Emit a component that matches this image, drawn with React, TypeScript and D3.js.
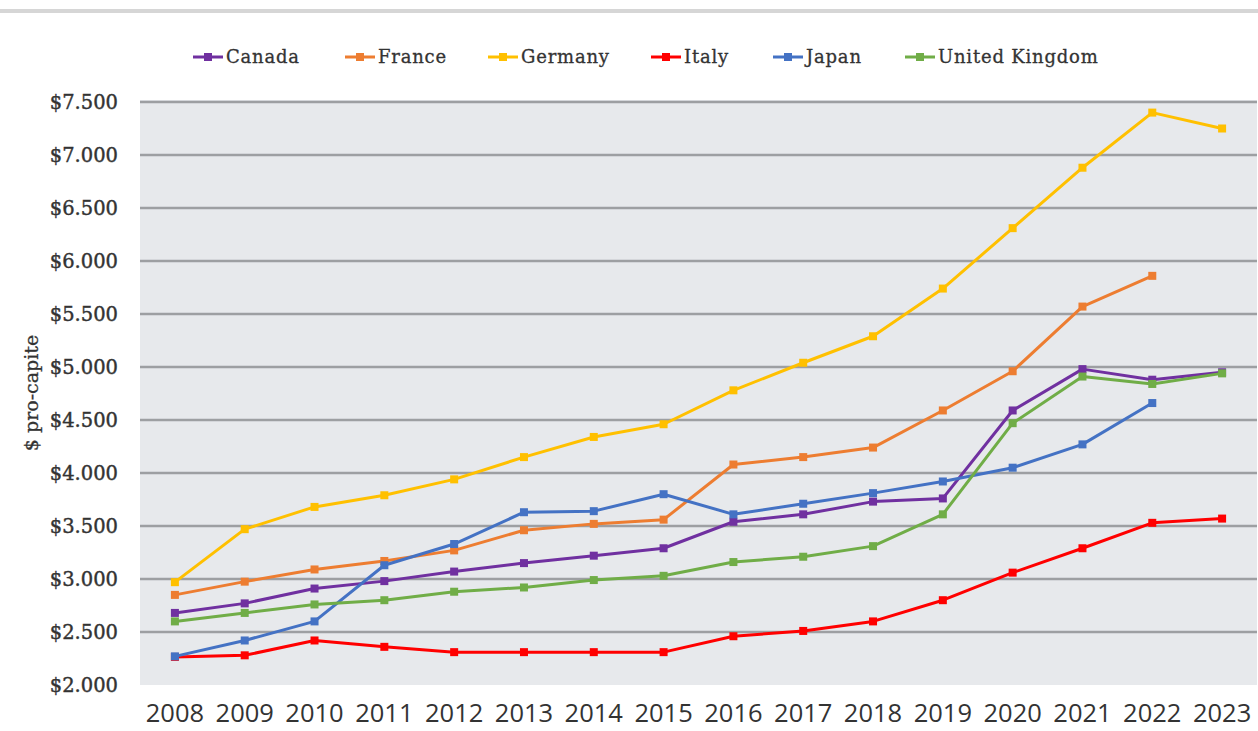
import React from "react";
import * as d3 from "d3";

const years = ["2008","2009","2010","2011","2012","2013","2014","2015","2016","2017","2018","2019","2020","2021","2022","2023"];
const seriesNames = ["Canada","France","Germany","Italy","Japan","United Kingdom"];
const seriesColors = ["#7030A0","#ED7D31","#FFC000","#FF0000","#4472C4","#70AD47"];
const canada = [2680,2770,2910,2980,3070,3150,3220,3290,3540,3610,3730,3760,4590,4980,4880,4950];
const france = [2850,2975,3090,3170,3270,3460,3520,3560,4080,4150,4240,4590,4960,5570,5860,null];
const germany = [2970,3470,3680,3790,3940,4150,4340,4460,4780,5040,5290,5740,6310,6880,7400,7250];
const italy = [2265,2280,2420,2360,2310,2310,2310,2310,2460,2510,2600,2800,3060,3290,3530,3570];
const japan = [2270,2420,2600,3130,3330,3630,3640,3800,3610,3710,3810,3920,4050,4270,4660,null];
const uk = [2600,2680,2760,2800,2880,2920,2990,3030,3160,3210,3310,3610,4470,4910,4840,4940];
const yTicks = [2000,2500,3000,3500,4000,4500,5000,5500,6000,6500,7000,7500];
const yTitle = "$ pro-capite";

const seriesValues = [canada, france, germany, italy, japan, uk];
const legendX = [193, 345, 488, 651, 773, 905];

const W = 1258, H = 731;
const left = 140, right = 1257, top = 102, bottom = 685;

export default function App() {
  const x = d3.scalePoint<string>().domain(years).range([left, right]).padding(0.5);
  const y = d3.scaleLinear().domain([2000, 7500]).range([bottom, top]);
  const fmt = (v: number) => "$" + d3.format(",")(v).replace(/,/g, ".");
  const line = d3
    .line<number | null>()
    .defined((d) => d !== null)
    .x((_, i) => x(years[i]) as number)
    .y((d) => y(d as number));

  return (
    <svg width={W} height={H} style={{ position: "absolute", left: 0, top: 0, background: "#fff" }}>
      <line x1={0} x2={W} y1={11} y2={11} stroke="#d6d6d6" strokeWidth={4} />
      <rect x={left} y={top - 2} width={right - left} height={bottom - top + 2} fill="#E7E9EC" />
      {yTicks.map((t) => (
        <g key={t}>
          {t > 2000 && (
            <line x1={left} x2={right} y1={y(t)} y2={y(t)} stroke="#9d9fa2" strokeWidth={2.5} />
          )}
          <text
            x={118}
            y={y(t)}
            dy="0.35em"
            textAnchor="end"
            fontFamily="DejaVu Serif"
            fontSize={19.5}
            fill="#333"
            stroke="#333"
            strokeWidth={0.4}
          >
            {fmt(t)}
          </text>
        </g>
      ))}
      {years.map((yr) => (
        <text
          key={yr}
          x={x(yr)}
          y={722}
          textAnchor="middle"
          fontFamily="Open Sans"
          fontSize={25.5}
          fill="#333"
        >
          {yr}
        </text>
      ))}
      <text
        transform={`translate(38,${393}) rotate(-90)`}
        textAnchor="middle"
        fontFamily="DejaVu Serif"
        fontSize={19}
        fill="#333"
        stroke="#333"
        strokeWidth={0.3}
      >
        {yTitle}
      </text>
      {seriesValues.map((vals, si) => (
        <g key={seriesNames[si]}>
          <path d={line(vals) || ""} fill="none" stroke={seriesColors[si]} strokeWidth={3} strokeLinejoin="round" />
          {vals.map((v, i) =>
            v === null ? null : (
              <rect
                key={i}
                x={(x(years[i]) as number) - 4}
                y={y(v) - 4}
                width={8}
                height={8}
                fill={seriesColors[si]}
              />
            )
          )}
        </g>
      ))}
      {seriesNames.map((n, si) => (
        <g key={n} transform={`translate(${legendX[si]},57)`}>
          <line x1={0} x2={30} y1={0} y2={0} stroke={seriesColors[si]} strokeWidth={3} />
          <rect x={11} y={-4} width={8} height={8} fill={seriesColors[si]} />
          <text x={33} y={0} dy="0.35em" fontFamily="DejaVu Serif" fontSize={18} letterSpacing={0.8} fill="#333" stroke="#333" strokeWidth={0.3}>
            {n}
          </text>
        </g>
      ))}
    </svg>
  );
}
